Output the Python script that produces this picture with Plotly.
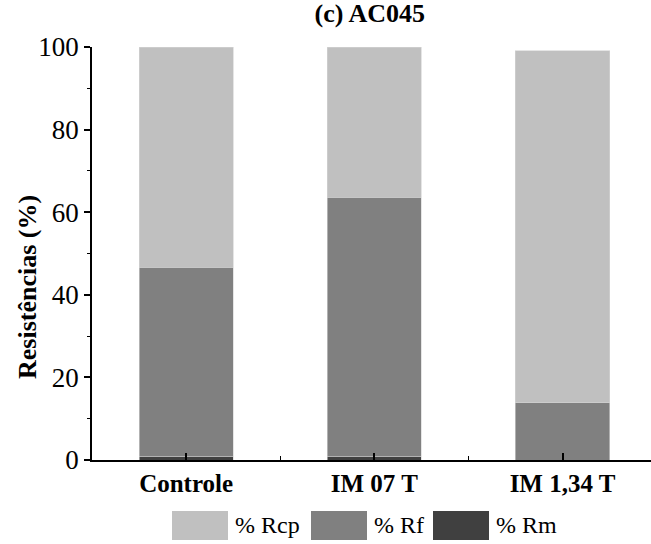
import plotly.graph_objects as go

categories = ["Controle", "IM 07 T", "IM 1,34 T"]
rm = [0.8, 0.8, 0.0]
rf = [45.9, 62.8, 13.9]
rcp = [53.3, 36.4, 85.2]

series_names = ["% Rcp", "% Rf", "% Rm"]
colors = {"% Rm": "#404040", "% Rf": "#808080", "% Rcp": "#c0c0c0"}

xpos = list(range(len(categories)))
FONT = "Liberation Serif"

fig = go.Figure()
for name, vals in [("% Rm", rm), ("% Rf", rf), ("% Rcp", rcp)]:
    fig.add_trace(go.Bar(
        x=xpos, y=vals, name=name, width=0.5,
        marker=dict(color=colors[name], line=dict(color="#d4d4d4", width=0.6)),
        showlegend=False,
    ))

fig.update_layout(
    barmode="stack",
    width=651, height=544,
    margin=dict(l=92, r=0, t=47, b=84),
    plot_bgcolor="white", paper_bgcolor="white",
    font=dict(family=FONT, color="black", size=24),
    title=dict(text="<b>(c) AC045</b>", x=0.568, xanchor="center", y=0.977, yanchor="middle",
               font=dict(size=26, family=FONT)),
)
fig.update_xaxes(
    range=[-0.5, 2.47], tickmode="array", tickvals=xpos,
    ticktext=["<b>%s</b>" % c for c in categories],
    showline=True, linecolor="black", linewidth=1.5,
    ticks="inside", ticklen=7, tickwidth=1.5, tickcolor="black",
    minor=dict(tickmode="array", tickvals=[0.5, 1.5], ticks="inside", ticklen=4, tickwidth=1.2, tickcolor="black"),
    showgrid=False, zeroline=False, tickfont=dict(size=25),
)
fig.update_yaxes(
    range=[0, 100], tickvals=[0, 20, 40, 60, 80, 100],
    showline=True, linecolor="black", linewidth=1.5,
    ticks="outside", ticklen=6, tickwidth=1.5, tickcolor="black",
    minor=dict(tickvals=[10, 30, 50, 70, 90], ticks="outside", ticklen=3, tickwidth=1.2, tickcolor="black"),
    showgrid=False, zeroline=False, tickfont=dict(size=27),
)

W, H = 651, 544
pw, ph = W - 92, H - 47 - 84
def px2paper_x(px):
    return (px - 92) / pw
def px2paper_y(py):
    return (H - 84 - py) / ph

# y-axis title
fig.add_annotation(xref="paper", yref="paper", x=px2paper_x(27), y=px2paper_y(287),
                   text="<b>Resistências (%)</b>", textangle=-90, showarrow=False,
                   xanchor="center", yanchor="middle", font=dict(size=26, family=FONT))

# legend drawn manually with large swatches
legend_items = [("% Rcp", 172, 228), ("% Rf", 311, 367), ("% Rm", 433, 489)]
for name, x0, x1 in legend_items:
    fig.add_shape(type="rect", xref="paper", yref="paper",
                  x0=px2paper_x(x0), x1=px2paper_x(x1),
                  y0=px2paper_y(540), y1=px2paper_y(511),
                  fillcolor=colors[name], line=dict(width=0))
    fig.add_annotation(xref="paper", yref="paper", x=px2paper_x(x1 + 5), y=px2paper_y(525),
                       text=name, showarrow=False, xanchor="left", yanchor="middle",
                       font=dict(size=24, family=FONT))

fig.write_html("out.html")
